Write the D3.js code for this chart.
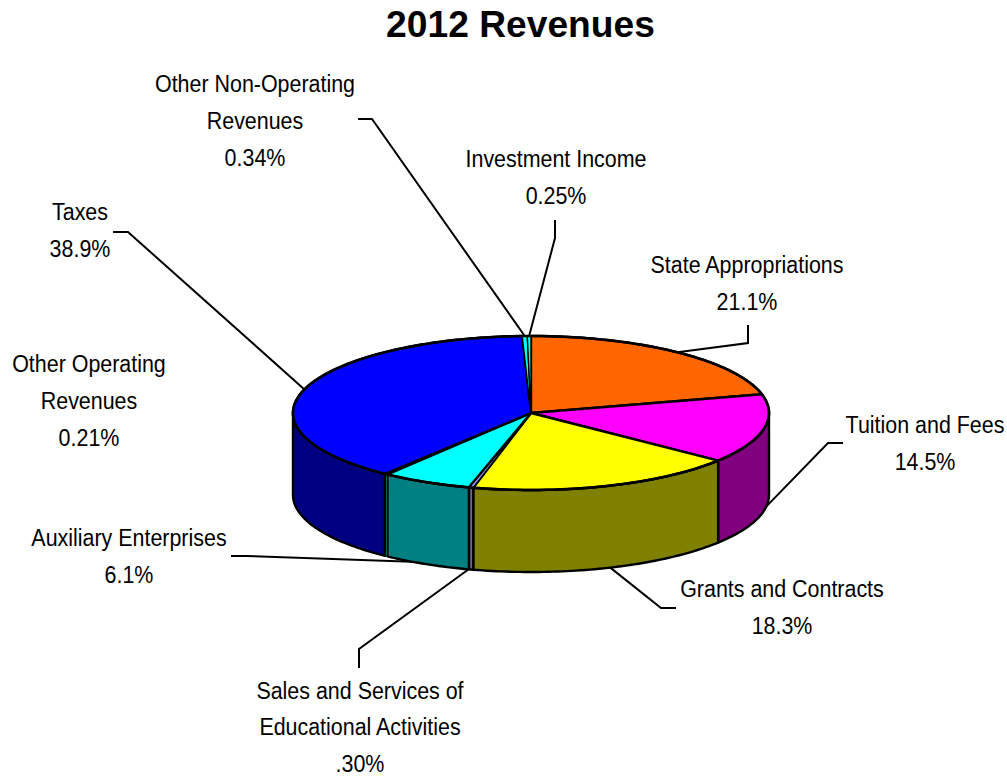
<!DOCTYPE html>
<html><head><meta charset="utf-8">
<script src="https://cdn.jsdelivr.net/npm/d3@7"></script>
<style>html,body{margin:0;padding:0;background:#fff}svg{display:block}</style>
</head><body><svg id="c" width="1007" height="777"></svg>
<script>
const categories=["State Appropriations","Tuition and Fees","Grants and Contracts","Sales and Services of Educational Activities","Auxiliary Enterprises","Other Operating Revenues","Taxes","Other Non-Operating Revenues","Investment Income"];
const values=[21.1,14.5,18.3,0.30,6.1,0.21,38.9,0.34,0.25];
const valueLabels=["21.1%","14.5%","18.3%",".30%","6.1%","0.21%","38.9%","0.34%","0.25%"];
const topColors=["#FF6600","#FF00FF","#FFFF00","#9999FF","#00FFFF","#00FFFF","#0000FF","#00FFFF","#00FFFF"];
const sideColors=["#803300","#800080","#808000","#666699","#008080","#008080","#000080","#008080","#008080"];
const labelLines=[["State Appropriations"],["Tuition and Fees"],["Grants and Contracts"],["Sales and Services of","Educational Activities"],["Auxiliary Enterprises"],["Other Operating","Revenues"],["Taxes"],["Other Non-Operating","Revenues"],["Investment Income"]];
// label centre x and first baseline y
const labelX=[747,925,782,360,129,89,80,255,556];
const labelY=[273,433,597,699,546,372,220,92,167];
const labelStep=[37,37,37,36.5,37,37,37,37,37];
// leader elbow points (null = no leader)
const elbows=[[[748,325],[748,343]],[[843,443],[828,443]],[[676,608],[661,608]],[[359,668],[359,649]],[[231,556],[246,556]],null,[[113,232],[128,232]],[[358,119],[372,119]],[[555,220],[555,238]]];

const cx=531,cy=413,rx=238,ry=77,depth=82;
const svg=d3.select("#c");
const px=d3.scaleLinear().domain([-1,1]).range([cx-rx,cx+rx]);
const py=d3.scaleLinear().domain([-1,1]).range([cy-ry,cy+ry]);
const arcs=d3.pie().sort(null).value(d=>d)(values);
const pt=(a,d=0)=>[px(Math.sin(a)),py(-Math.cos(a))+d];
function rim(a0,a1,d){const n=Math.max(2,Math.ceil((a1-a0)/0.02));return d3.range(n+1).map(i=>pt(a0+(a1-a0)*i/n,d));}
const line=d3.line();
const font="'Liberation Sans',Arial,sans-serif";

// leaders under the pie
const leaders=svg.append("g");
arcs.forEach((s,i)=>{
  if(!elbows[i])return;
  const m=(s.startAngle+s.endAngle)/2;
  const anchor=pt(m,Math.cos(m)<0?depth-2:0);
  leaders.append("path").attr("d",line([...elbows[i],anchor])).attr("fill","none").attr("stroke","#000").attr("stroke-width",2);
});

// sides, only the front half
const g=svg.append("g");
const sides=arcs.map((s,i)=>({s,i,a0:Math.max(s.startAngle,Math.PI/2),a1:Math.min(s.endAngle,Math.PI*1.5)})).filter(d=>d.a1>d.a0);
g.selectAll("path.side").data(sides).join("path").attr("class","side")
 .attr("d",d=>line([...rim(d.a0,d.a1,0),...rim(d.a0,d.a1,depth).reverse()])+"Z")
 .attr("fill",d=>sideColors[d.i]).attr("stroke","#000").attr("stroke-width",d=>values[d.i]<0.25?1:2.4).attr("stroke-linejoin","round");

// top face
g.selectAll("path.top").data(arcs).join("path").attr("class","top")
 .attr("d",(s,i)=>line([[cx,cy],...rim(s.startAngle,s.endAngle,0)])+"Z")
 .attr("fill",(s,i)=>topColors[i]).attr("stroke","#000")
 .attr("stroke-width",(s,i)=>values[i]<1?1.4:2.4).attr("stroke-linejoin","round");
g.append("path").attr("d",line(rim(0,2*Math.PI,0))+"Z").attr("fill","none").attr("stroke","#000").attr("stroke-width",2.6);

// labels
const t=svg.append("g").attr("font-family",font).attr("font-size",24.5).attr("fill","#000").attr("text-anchor","middle");
categories.forEach((c,i)=>{
  [...labelLines[i],valueLabels[i]].forEach((txt,j)=>{
    t.append("text").attr("x",labelX[i]).attr("y",labelY[i]+j*labelStep[i]).attr("transform-origin",labelX[i]+"px 0px").attr("transform","scale(0.875,1)").text(txt);
  });
});
svg.append("text").attr("x",520.5).attr("y",37).attr("text-anchor","middle").attr("font-family",font).attr("font-weight","bold").attr("font-size",37.2).text("2012 Revenues");
</script></body></html>
